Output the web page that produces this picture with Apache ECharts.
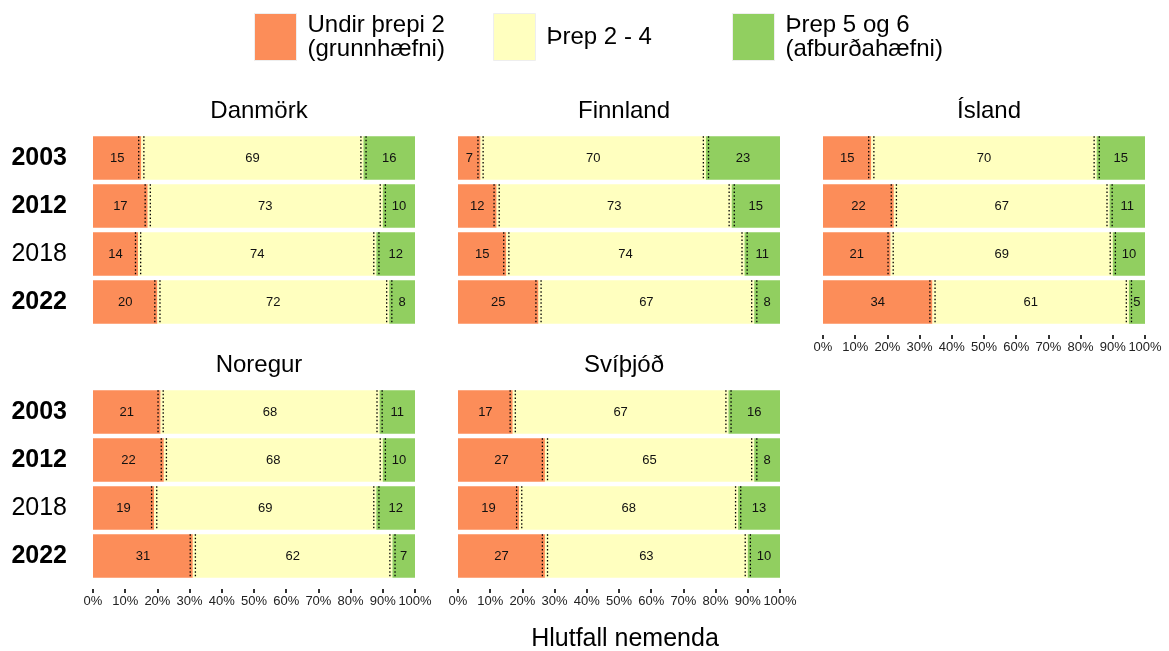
<!DOCTYPE html>
<html>
<head>
<meta charset="utf-8">
<script src="https://cdn.jsdelivr.net/npm/echarts@6/dist/echarts.min.js"></script>
<style>
  html, body { margin: 0; padding: 0; background: #fff; }
  #main { width: 1169px; height: 651px; }
</style>
</head>
<body>
<div id="main"></div>
<script>
var myChart = echarts.init(document.getElementById('main'));

const years = ['2003', '2012', '2018', '2022'];
const countries = ['Danmörk', 'Finnland', 'Ísland', 'Noregur', 'Svíþjóð'];
const levelNames = ['Undir þrepi 2\n(grunnhæfni)', 'Þrep 2 - 4', 'Þrep 5 og 6\n(afburðahæfni)'];
const levelColors = ['#fc8d59', '#ffffbf', '#91cf60'];

// hlutfall nemenda (%) eftir landi, röð: 2003, 2012, 2018, 2022
const lowLevel = [
    [15, 17, 14, 20],
    [7, 12, 15, 25],
    [15, 22, 21, 34],
    [21, 22, 19, 31],
    [17, 27, 19, 27]
];
const midLevel = [
    [69, 73, 74, 72],
    [70, 73, 74, 67],
    [70, 67, 69, 61],
    [68, 68, 69, 62],
    [67, 65, 68, 63]
];
const highLevel = [
    [16, 10, 12, 8],
    [23, 15, 11, 8],
    [15, 11, 10, 5],
    [11, 10, 12, 7],
    [16, 8, 13, 10]
];
const ciHalf = 0.8;

const fontName = 'Liberation Sans';

const gridPos = [
    { left: 93, top: 134 },
    { left: 458, top: 134 },
    { left: 823, top: 134 },
    { left: 93, top: 388 },
    { left: 458, top: 388 }
];
const showYLabels = [true, false, false, true, false];
const showXLabels = [false, false, true, true, true];
const legendLeft = [249, 488, 727];

const grids = [], xAxes = [], yAxes = [], series = [], titles = [];

countries.forEach(function (c, i) {
    const g = gridPos[i];
    grids.push({ left: g.left, top: g.top, width: 322, height: 192 });
    titles.push({
        text: c,
        left: g.left + 161,
        top: g.top - 40,
        textAlign: 'center',
        textStyle: { fontFamily: fontName, fontSize: 24, fontWeight: 'normal', color: '#000' }
    });
    xAxes.push({
        type: 'value',
        gridIndex: i,
        min: 0,
        max: 100,
        interval: 10,
        offset: 9,
        axisLine: { show: false },
        splitLine: { show: false },
        axisTick: { show: showXLabels[i], length: 4, lineStyle: { color: '#333', width: 2 } },
        axisLabel: {
            show: showXLabels[i],
            margin: 6,
            fontFamily: fontName,
            fontSize: 13,
            color: '#222',
            formatter: '{value}%'
        }
    });
    yAxes.push({
        type: 'category',
        gridIndex: i,
        data: years,
        inverse: true,
        axisLine: { show: false },
        axisTick: { show: false },
        axisLabel: {
            show: showYLabels[i],
            margin: 26,
            formatter: function (v) {
                return v === '2018' ? '{n|' + v + '}' : '{b|' + v + '}';
            },
            rich: {
                b: { fontFamily: fontName, fontSize: 25, fontWeight: 'bold', color: '#000' },
                n: { fontFamily: fontName, fontSize: 25, fontWeight: 'normal', color: '#000' }
            }
        }
    });

    [lowLevel, midLevel, highLevel].forEach(function (arr, k) {
        series.push({
            name: levelNames[k],
            type: 'bar',
            stack: 'land' + i,
            xAxisIndex: i,
            yAxisIndex: i,
            barCategoryGap: '9%',
            itemStyle: { color: levelColors[k] },
            label: {
                show: true,
                position: 'inside',
                fontFamily: fontName,
                fontSize: 13,
                color: '#111'
            },
            data: arr[i]
        });
    });

    // mörk milli þrepa með óvissubili (punktalínur)
    const bounds = [];
    years.forEach(function (y, j) {
        bounds.push([lowLevel[i][j], j]);
        bounds.push([lowLevel[i][j] + midLevel[i][j], j]);
    });
    series.push({
        name: 'ci' + i,
        type: 'custom',
        xAxisIndex: i,
        yAxisIndex: i,
        silent: true,
        z: 5,
        data: bounds,
        renderItem: function (params, api) {
            const v = api.value(0), j = api.value(1);
            const c = api.coord([v, j]);
            const h = api.size([0, 1])[1] * 0.91;
            const left = api.coord([v - ciHalf, j])[0];
            const right = api.coord([v + ciHalf, j])[0];
            const style = { stroke: '#000', lineWidth: 1.3, lineDash: [1.5, 2.2], fill: null };
            return {
                type: 'group',
                children: [
                    { type: 'line', shape: { x1: left, y1: c[1] - h / 2, x2: left, y2: c[1] + h / 2 }, style: style },
                    { type: 'line', shape: { x1: right, y1: c[1] - h / 2, x2: right, y2: c[1] + h / 2 }, style: style }
                ]
            };
        }
    });
});

titles.push({
    text: 'Hlutfall nemenda',
    left: 620,
    top: 622,
    textAlign: 'center',
    textStyle: { fontFamily: fontName, fontSize: 25, fontWeight: 'normal', color: '#000' }
});

const legends = levelNames.map(function (n, k) {
    return {
        data: [n],
        left: legendLeft[k],
        top: 8,
        icon: 'rect',
        itemWidth: 42,
        itemHeight: 47,
        selectedMode: false,
        itemStyle: { borderColor: '#eeeeee', borderWidth: 1 },
        textStyle: {
            fontFamily: fontName,
            fontSize: 24,
            lineHeight: 24,
            color: '#000',
            padding: [0, 0, 0, 6]
        }
    };
});

const option = {
    animation: false,
    title: titles,
    legend: legends,
    grid: grids,
    xAxis: xAxes,
    yAxis: yAxes,
    series: series
};

myChart.setOption(option);
</script>
</body>
</html>
